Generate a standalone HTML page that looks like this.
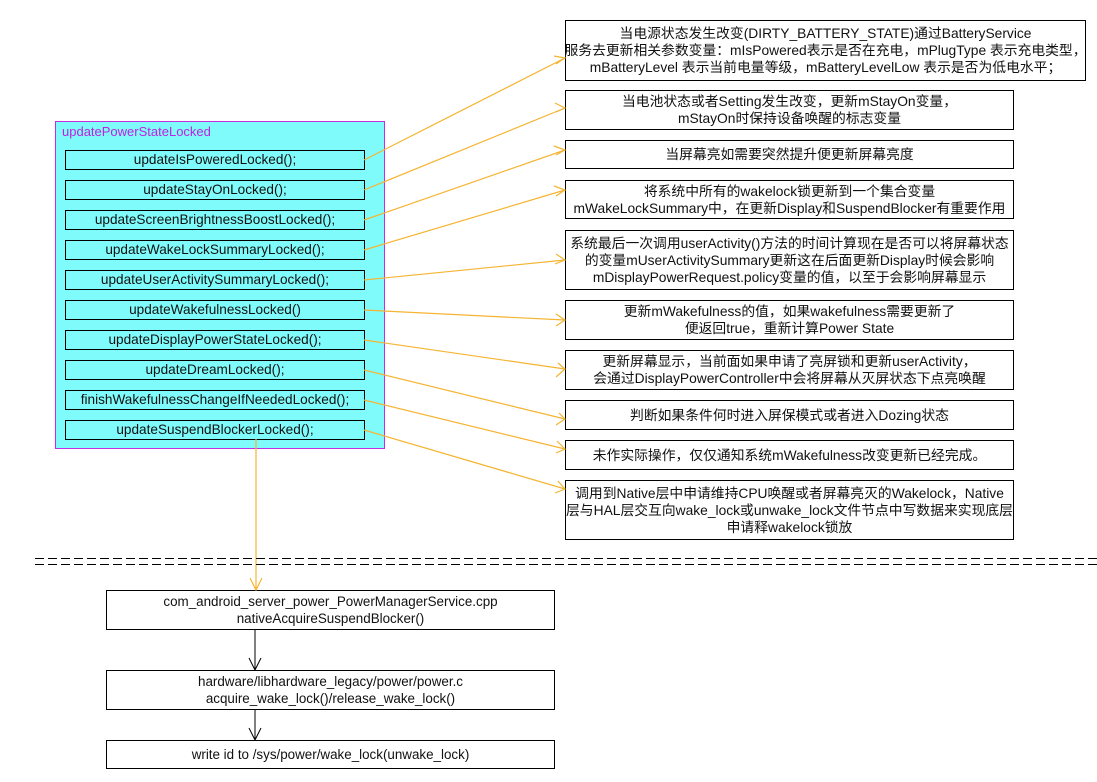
<!DOCTYPE html>
<html><head><meta charset="utf-8"><style>
body{margin:0;width:1097px;height:782px;background:#fff;position:relative;overflow:hidden;font-family:"Liberation Sans","Noto Sans CJK SC",sans-serif;color:#111}
.b{position:absolute;border:1px solid #000;box-sizing:border-box;display:flex;align-items:center;justify-content:center;text-align:center;font-size:13.8px;line-height:17px;background:#fff;white-space:nowrap}
.i{position:absolute;left:65px;width:300px;height:20px;border:1px solid #000;box-sizing:border-box;background:#7ffbfb;text-align:center;font-size:13.6px;line-height:18px;white-space:nowrap}
.n{font-size:13.4px}
</style></head><body>
<div style="position:absolute;left:55px;top:121px;width:330px;height:328px;background:#7ffbfb;border:1px solid #c030e0;box-sizing:border-box"></div>
<div style="position:absolute;left:62px;top:124px;font-size:13px;color:#c020e0">updatePowerStateLocked</div>
<div class="i" style="top:150px">updateIsPoweredLocked();</div>
<div class="i" style="top:180px">updateStayOnLocked();</div>
<div class="i" style="top:210px">updateScreenBrightnessBoostLocked();</div>
<div class="i" style="top:240px">updateWakeLockSummaryLocked();</div>
<div class="i" style="top:270px">updateUserActivitySummaryLocked();</div>
<div class="i" style="top:300px">updateWakefulnessLocked()</div>
<div class="i" style="top:330px">updateDisplayPowerStateLocked();</div>
<div class="i" style="top:360px">updateDreamLocked();</div>
<div class="i" style="top:390px">finishWakefulnessChangeIfNeededLocked();</div>
<div class="i" style="top:420px">updateSuspendBlockerLocked();</div>

<div class="b" style="left:565px;top:20px;width:521px;height:61px">当电源状态发生改变(DIRTY_BATTERY_STATE)通过BatteryService<br>服务去更新相关参数变量：mIsPowered表示是否在充电，mPlugType 表示充电类型，<br>mBatteryLevel 表示当前电量等级，mBatteryLevelLow 表示是否为低电水平；</div>
<div class="b" style="left:565px;top:90px;width:449px;height:40px">当电池状态或者Setting发生改变，更新mStayOn变量，<br>mStayOn时保持设备唤醒的标志变量</div>
<div class="b" style="left:565px;top:140px;width:449px;height:29px">当屏幕亮如需要突然提升便更新屏幕亮度</div>
<div class="b" style="left:565px;top:180px;width:449px;height:39px">将系统中所有的wakelock锁更新到一个集合变量<br>mWakeLockSummary中，在更新Display和SuspendBlocker有重要作用</div>
<div class="b" style="left:565px;top:230px;width:449px;height:60px">系统最后一次调用userActivity()方法的时间计算现在是否可以将屏幕状态<br>的变量mUserActivitySummary更新这在后面更新Display时候会影响<br>mDisplayPowerRequest.policy变量的值，以至于会影响屏幕显示</div>
<div class="b" style="left:565px;top:300px;width:449px;height:40px">更新mWakefulness的值，如果wakefulness需要更新了<br>便返回true，重新计算Power State</div>
<div class="b" style="left:565px;top:350px;width:449px;height:40px">更新屏幕显示，当前面如果申请了亮屏锁和更新userActivity，<br>会通过DisplayPowerController中会将屏幕从灭屏状态下点亮唤醒</div>
<div class="b" style="left:565px;top:400px;width:449px;height:30px">判断如果条件何时进入屏保模式或者进入Dozing状态</div>
<div class="b" style="left:565px;top:440px;width:449px;height:30px">未作实际操作，仅仅通知系统mWakefulness改变更新已经完成。</div>
<div class="b" style="left:565px;top:480px;width:449px;height:60px">调用到Native层中申请维持CPU唤醒或者屏幕亮灭的Wakelock，Native<br>层与HAL层交互向wake_lock或unwake_lock文件节点中写数据来实现底层<br>申请释wakelock锁放</div>

<div class="b n" style="left:106px;top:590px;width:449px;height:40px">com_android_server_power_PowerManagerService.cpp<br>nativeAcquireSuspendBlocker()</div>
<div class="b n" style="left:106px;top:670px;width:449px;height:40px">hardware/libhardware_legacy/power/power.c<br>acquire_wake_lock()/release_wake_lock()</div>
<div class="b n" style="left:106px;top:740px;width:449px;height:29px">write id to /sys/power/wake_lock(unwake_lock)</div>

<svg width="1097" height="782" style="position:absolute;left:0;top:0" fill="none">
<g stroke="#f5b431" stroke-width="1.2">
<path d="M364 160L565 58M364 190L565 108M364 220L565 150M364 250L565 190M364 280L565 260M364 310L565 320M364 340L565 369M364 370L565 419M364 400L565 449M364 430L565 489"/>
<path d="M556 64L565 58L554 56M556 112L565 108L555 103M556 155L565 150L554 146M556 196L565 190L554 186M555 264L565 260L556 254M556 326L565 320L556 314M556 377L565 369L558 363M556 425L565 419L559 413M556 453L565 449L557 441M555 493L565 489L558 481"/>
<path d="M256 439V590M250 578L256 590L262 578"/>
</g>
<g stroke="#000" stroke-width="1">
<path d="M255 630V670M249 658L255 670L261 658M255 710V740M249 728L255 740L261 728"/>
</g>
<g stroke="#000" stroke-width="1" stroke-dasharray="9,4">
<path d="M35 558.5H1097M35 564.5H1097"/>
</g>
</svg>
</body></html>
